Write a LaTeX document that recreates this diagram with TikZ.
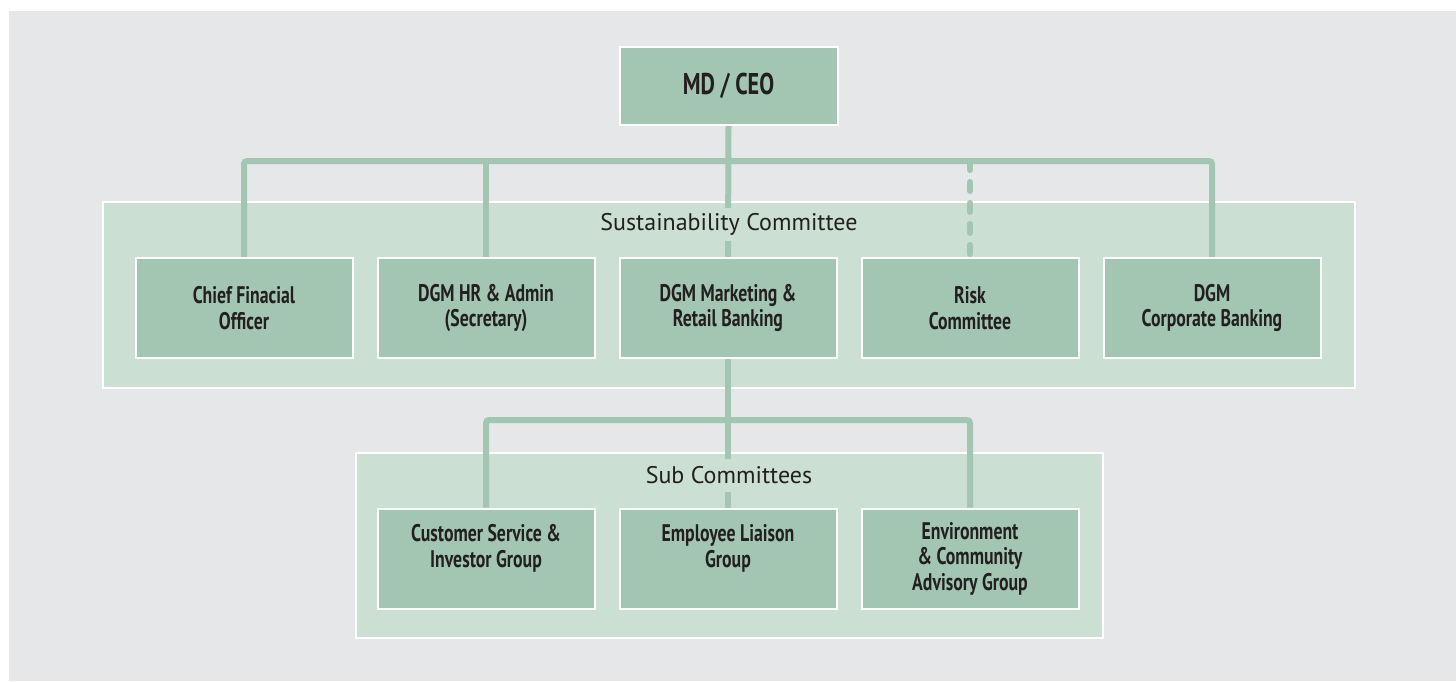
\documentclass[tikz,border=0pt]{standalone}
\usepackage{fontspec}
\usepackage{tikz}
\usepackage{color}

\setsansfont{PT Sans}
\newfontfamily\unitfont[FakeStretch=0.74]{PT Sans}

\definecolor{bggray}{HTML}{E6E7E8}
\definecolor{panelgreen}{HTML}{CBDFD3}
\definecolor{unitgreen}{HTML}{A2C6B2}
\definecolor{linkgreen}{HTML}{A2C6B2}
\definecolor{ink}{HTML}{231F20}

\pgfdeclarelayer{back}
\pgfdeclarelayer{wires}
\pgfsetlayers{back,wires,main}

\begin{document}
\begin{tikzpicture}
[
  x=1pt, y=-1pt,
  panel/.style={draw=white, line width=2pt, fill=panelgreen},
  unit/.style={draw=white, line width=2pt, fill=unitgreen, text=ink,
    minimum width=217pt, minimum height=100pt, align=center,
    font=\unitfont\bfseries\fontsize{24}{25.5}\selectfont},
  link/.style={draw=linkgreen, line width=6pt, rounded corners=3pt},
  caption/.style={fill=panelgreen, text=ink, inner xsep=4pt, minimum height=33pt,
    font=\sffamily\fontsize{24}{30}\selectfont}
]

\useasboundingbox (0,0) rectangle (1456,681);

\begin{pgfonlayer}{back}
\fill[bggray] (9,11) rectangle (1456,681);
\node[panel, minimum width=1252pt, minimum height=186pt] (susbox) at (729,295) {};
\node[panel, minimum width=747pt, minimum height=185pt] (subbox) at (729.5,545.5) {};
\end{pgfonlayer}

\node[unit, minimum width=218pt, minimum height=78pt,
  font=\unitfont\bfseries\fontsize{30}{32}\selectfont] (ceo) at (728.5,86) {MD / CEO};

\node[unit] (cfo) at (244,308) {Chief Finacial\\Officer};
\node[unit] (hr) at (486,308) {DGM HR \& Admin\\(Secretary)};
\node[unit] (mkt) at (728,308) {DGM Marketing \&\\Retail Banking};
\node[unit] (risk) at (970,308) {Risk\\Committee};
\node[unit] (corp) at (1212,308) {DGM\\Corporate Banking};

\node[unit] (cust) at (486,558.5) {Customer Service \&\\Investor Group\\\mbox{}};
\node[unit] (emp) at (728,558.5) {Employee Liaison\\Group\\\mbox{}};
\node[unit] (env) at (970,558.5) {Environment\\\& Community\\Advisory Group};

\coordinate (topbus) at (728,161);
\coordinate (subbus) at (728,420);

\begin{pgfonlayer}{wires}
\draw[link] (cfo.north) |- (topbus) -| (corp.north);
\draw[link] (hr.north |- topbus) -- (hr.north);
\draw[link] (ceo.south) -- (mkt.north);
\draw[link, rounded corners=0pt, dash pattern=on 9pt off 12pt, line cap=round]
  (risk.north |- topbus) -- (risk.north);

\draw[link] (cust.north) |- (subbus) -| (env.north);
\draw[link] (mkt.south) -- (emp.north);
\end{pgfonlayer}

\node[caption] (suslabel) at (729,224.5) {Sustainability Committee};
\node[caption] (sublabel) at (729,475.5) {Sub Committees};

\end{tikzpicture}
\end{document}
